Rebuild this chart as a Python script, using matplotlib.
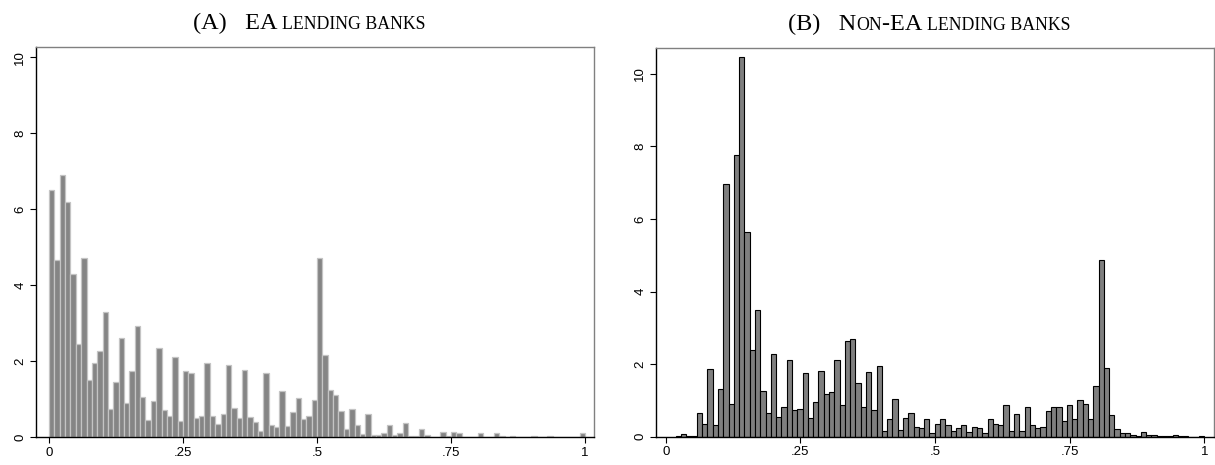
import numpy as np
import matplotlib
matplotlib.use("Agg")
import matplotlib.pyplot as plt
from matplotlib.offsetbox import TextArea, HPacker, AnchoredOffsetbox

# density per bin, left panel: 100 bins on [0, 1]
ea_edges = np.linspace(0.0, 1.0, 101)
ea_density = [
    6.51, 4.67, 6.89, 6.20, 4.29, 2.46, 4.71, 1.51, 1.96, 2.26,
    3.28, 0.75, 1.46, 2.61, 0.89, 1.73, 2.91, 1.04, 0.44, 0.95,
    2.34, 0.72, 0.55, 2.11, 0.43, 1.74, 1.68, 0.50, 0.54, 1.95,
    0.54, 0.33, 0.61, 1.90, 0.77, 0.51, 1.76, 0.52, 0.39, 0.16,
    1.68, 0.32, 0.27, 1.21, 0.28, 0.66, 1.03, 0.48, 0.54, 0.98,
    4.71, 2.15, 1.25, 1.10, 0.68, 0.22, 0.74, 0.32, 0.09, 0.61,
    0.04, 0.04, 0.11, 0.32, 0.04, 0.11, 0.36, 0.03, 0.03, 0.20,
    0.04, 0.00, 0.00, 0.14, 0.02, 0.14, 0.10, 0.00, 0.00, 0.00,
    0.10, 0.00, 0.00, 0.11, 0.03, 0.00, 0.03, 0.00, 0.00, 0.00,
    0.03, 0.00, 0.00, 0.02, 0.00, 0.00, 0.00, 0.00, 0.00, 0.11,
]

# right panel: 100 bins starting at the sample minimum
nonea_edges = np.linspace(0.0185, 1.0, 101)
nonea_density = [
    0.03, 0.07, 0.02, 0.02, 0.64, 0.35, 1.87, 0.32, 1.31, 6.96,
    0.90, 7.75, 10.45, 5.63, 2.39, 3.49, 1.25, 0.64, 2.27, 0.53,
    0.82, 2.10, 0.74, 0.77, 1.75, 0.51, 0.96, 1.80, 1.19, 1.24,
    2.10, 0.87, 2.64, 2.70, 1.49, 0.81, 1.79, 0.74, 1.94, 0.17,
    0.48, 1.05, 0.18, 0.51, 0.64, 0.28, 0.23, 0.48, 0.10, 0.36,
    0.49, 0.31, 0.16, 0.25, 0.33, 0.14, 0.28, 0.23, 0.09, 0.48,
    0.34, 0.31, 0.86, 0.17, 0.62, 0.17, 0.81, 0.31, 0.23, 0.28,
    0.72, 0.83, 0.81, 0.42, 0.86, 0.50, 1.00, 0.91, 0.50, 1.40,
    4.87, 1.88, 0.60, 0.21, 0.10, 0.09, 0.05, 0.02, 0.13, 0.06,
    0.04, 0.02, 0.01, 0.01, 0.04, 0.01, 0.01, 0.00, 0.00, 0.02,
]

xticks = [0, 0.25, 0.5, 0.75, 1]
xticklabels = ["0", ".25", ".5", ".75", "1"]
yticks = [0, 2, 4, 6, 8, 10]

# title pieces: (text, small caps?)
title_a = [("(A)   EA ", False), ("LENDING BANKS", True)]
title_b = [("(B)   N", False), ("ON", True), ("-EA ", False), ("LENDING BANKS", True)]

tick_font = "Liberation Sans"
title_font = "Liberation Serif"

fig = plt.figure(figsize=(12.15, 4.65), dpi=100)
ax1 = fig.add_axes([36 / 1215, 28 / 465, 558 / 1215, 389.7 / 465])
ax2 = fig.add_axes([656 / 1215, 28.3 / 465, 558 / 1215, 388.4 / 465])


def style(ax, xlim, ylim):
    ax.set_xlim(*xlim)
    ax.set_ylim(*ylim)
    ax.set_xticks(xticks)
    ax.set_xticklabels(xticklabels)
    ax.set_yticks(yticks)
    ax.set_yticklabels([str(t) for t in yticks], rotation=90, va="center")
    ax.tick_params(direction="out", length=4, width=0.8, color="black",
                   labelsize=9.5, pad=3)
    for lab in ax.get_xticklabels() + ax.get_yticklabels():
        lab.set_fontfamily(tick_font)
    ax.spines["left"].set_color("black")
    ax.spines["bottom"].set_color("black")
    ax.spines["top"].set_color("#808080")
    ax.spines["right"].set_color("#808080")
    for s in ax.spines.values():
        s.set_linewidth(1.0)


def title(ax, parts):
    boxes = []
    for txt, small in parts:
        size = 12.8 if small else 17.5
        boxes.append(TextArea(txt, textprops=dict(fontsize=size, family=title_font)))
    pack = HPacker(children=boxes, align="baseline", pad=0, sep=0)
    anch = AnchoredOffsetbox(loc="lower center", child=pack, pad=0, borderpad=0,
                             frameon=False, bbox_to_anchor=(0.49, 1.035),
                             bbox_transform=ax.transAxes)
    ax.add_artist(anch)


ax1.bar(ea_edges[:-1], ea_density, width=np.diff(ea_edges), align="edge",
        color="#858585", edgecolor="#c4c4c4", linewidth=0.9)
style(ax1, (-0.0243, 1.0168), (0, 10.26))
title(ax1, title_a)

ax2.bar(nonea_edges[:-1], nonea_density, width=np.diff(nonea_edges), align="edge",
        color="#7f7f7f", edgecolor="black", linewidth=0.8)
style(ax2, (-0.018, 1.018), (0, 10.70))
title(ax2, title_b)

fig.savefig("out.png", dpi=100)
